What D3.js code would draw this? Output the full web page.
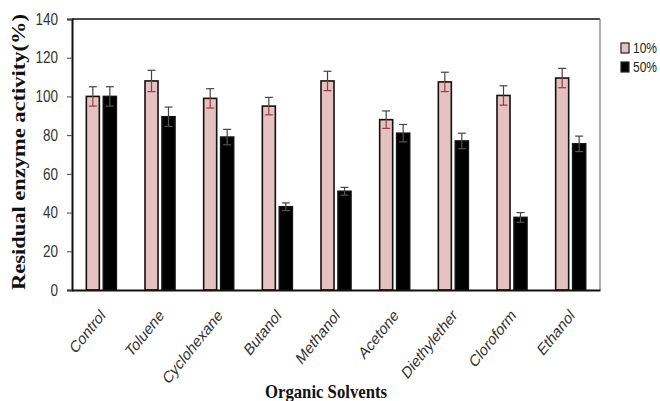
<!DOCTYPE html>
<html><head><meta charset="utf-8">
<script src="https://cdn.jsdelivr.net/npm/d3@7"></script>
<style>body{margin:0;background:#fff}svg{display:block}</style>
</head><body>
<script>
const categories = ["Control","Toluene","Cyclohexane","Butanol","Methanol","Acetone","Diethylether","Cloroform","Ethanol"];
const seriesNames = ["10%","50%"];
const values10 = [100,108,99,95,108,88,107.5,100.5,109.5];
const err10 = [5,5.5,5,4.5,5,4.5,5,5,5];
const values50 = [100,89.5,79,43,51,81,77,37.5,75.5];
const err50 = [5,5,4,2,2,4.5,4,2.5,4];
const yTicks = [0,20,40,60,80,100,120,140];

const W=660,H=401;
const svg=d3.select("body").append("svg").attr("width",W).attr("height",H);
const x=d3.scaleBand().domain(categories).range([72,600]);
const y=d3.scaleLinear().domain([0,140]).range([290,19]);
const bw=13, gap=4;
const tickFont='"Liberation Sans",Arial,sans-serif';
const serif="'Liberation Serif','Times New Roman',serif";

// frame
svg.append("line").attr("x1",72).attr("x2",600).attr("y1",19).attr("y2",19).attr("stroke","#111").attr("stroke-width",1.3);
svg.append("line").attr("x1",600).attr("x2",600).attr("y1",19).attr("y2",290).attr("stroke","#777").attr("stroke-width",1.2);

const series=[{name:seriesNames[0],v:values10,e:err10,fill:"#e6c1c1",off:-(bw+gap)/2},{name:seriesNames[1],v:values50,e:err50,fill:"#000",off:(bw+gap)/2}];
series.forEach((s,si)=>{
  const g=svg.append("g");
  categories.forEach((c,i)=>{
    const cx=x(c)+x.bandwidth()/2+s.off;
    g.append("rect").attr("x",cx-bw/2).attr("y",y(s.v[i])).attr("width",bw).attr("height",y(0)-y(s.v[i]))
      .attr("fill",s.fill).attr("stroke","#111").attr("stroke-width",1.6);
    const top=y(s.v[i]+s.e[i]), bot=y(s.v[i]-s.e[i]), mid=y(s.v[i]);
    const ec="#444";
    const lowc = si===0 ? "#9a3a3a" : "#555";
    g.append("line").attr("x1",cx).attr("x2",cx).attr("y1",top).attr("y2",mid).attr("stroke",ec).attr("stroke-width",1.2);
    g.append("line").attr("x1",cx).attr("x2",cx).attr("y1",mid).attr("y2",bot).attr("stroke",lowc).attr("stroke-width",1.2);
    g.append("line").attr("x1",cx-4).attr("x2",cx+4).attr("y1",top).attr("y2",top).attr("stroke",ec).attr("stroke-width",1.2);
    g.append("line").attr("x1",cx-4).attr("x2",cx+4).attr("y1",bot).attr("y2",bot).attr("stroke",lowc).attr("stroke-width",1.2);
  });
});

// y axis
const ya=svg.append("g").attr("transform","translate(72,0)").call(d3.axisLeft(y).tickValues(yTicks).tickSize(5).tickPadding(9));
ya.select(".domain").attr("stroke","#111").attr("stroke-width",2);
ya.selectAll(".tick line").attr("stroke","#444");
ya.selectAll("text").attr("font-family",tickFont).attr("font-size",13.5).attr("fill","#333").attr("transform","scale(1,1.2)");

// x axis
const xa=svg.append("g").attr("transform","translate(0,290)").call(d3.axisBottom(x).tickSize(0).tickPadding(0));
xa.select(".domain").attr("stroke","#111").attr("stroke-width",2);
xa.selectAll("text").attr("font-family",tickFont).attr("font-size",13.5).attr("fill","#333")
  .attr("text-anchor","end").attr("y",0).attr("dy","0.7em").attr("transform","translate(-2,18) scale(1,1.25) rotate(-45)");

// titles
svg.append("text").attr("transform","translate(25,152) rotate(-90)").attr("text-anchor","middle")
  .attr("font-family",serif).attr("font-weight","bold").attr("font-size",18)
  .attr("textLength",276).attr("lengthAdjust","spacingAndGlyphs").attr("fill","#111").text("Residual enzyme activity(%)");
svg.append("text").attr("transform","translate(326,398) scale(1,1.2)").attr("text-anchor","middle")
  .attr("font-family",serif).attr("font-weight","bold").attr("font-size",16)
  .attr("textLength",122).attr("lengthAdjust","spacingAndGlyphs").attr("fill","#111").text("Organic Solvents");

// legend
series.forEach((s,i)=>{
  const ly=43+i*19;
  svg.append("rect").attr("x",621).attr("y",ly).attr("width",8).attr("height",10).attr("fill",s.fill).attr("stroke","#222").attr("stroke-width",1.2);
  svg.append("text").attr("transform",`translate(633,${ly+10}) scale(1,1.25)`).attr("font-family",tickFont).attr("font-size",12).attr("fill","#222").text(s.name);
});
</script>
</body></html>
